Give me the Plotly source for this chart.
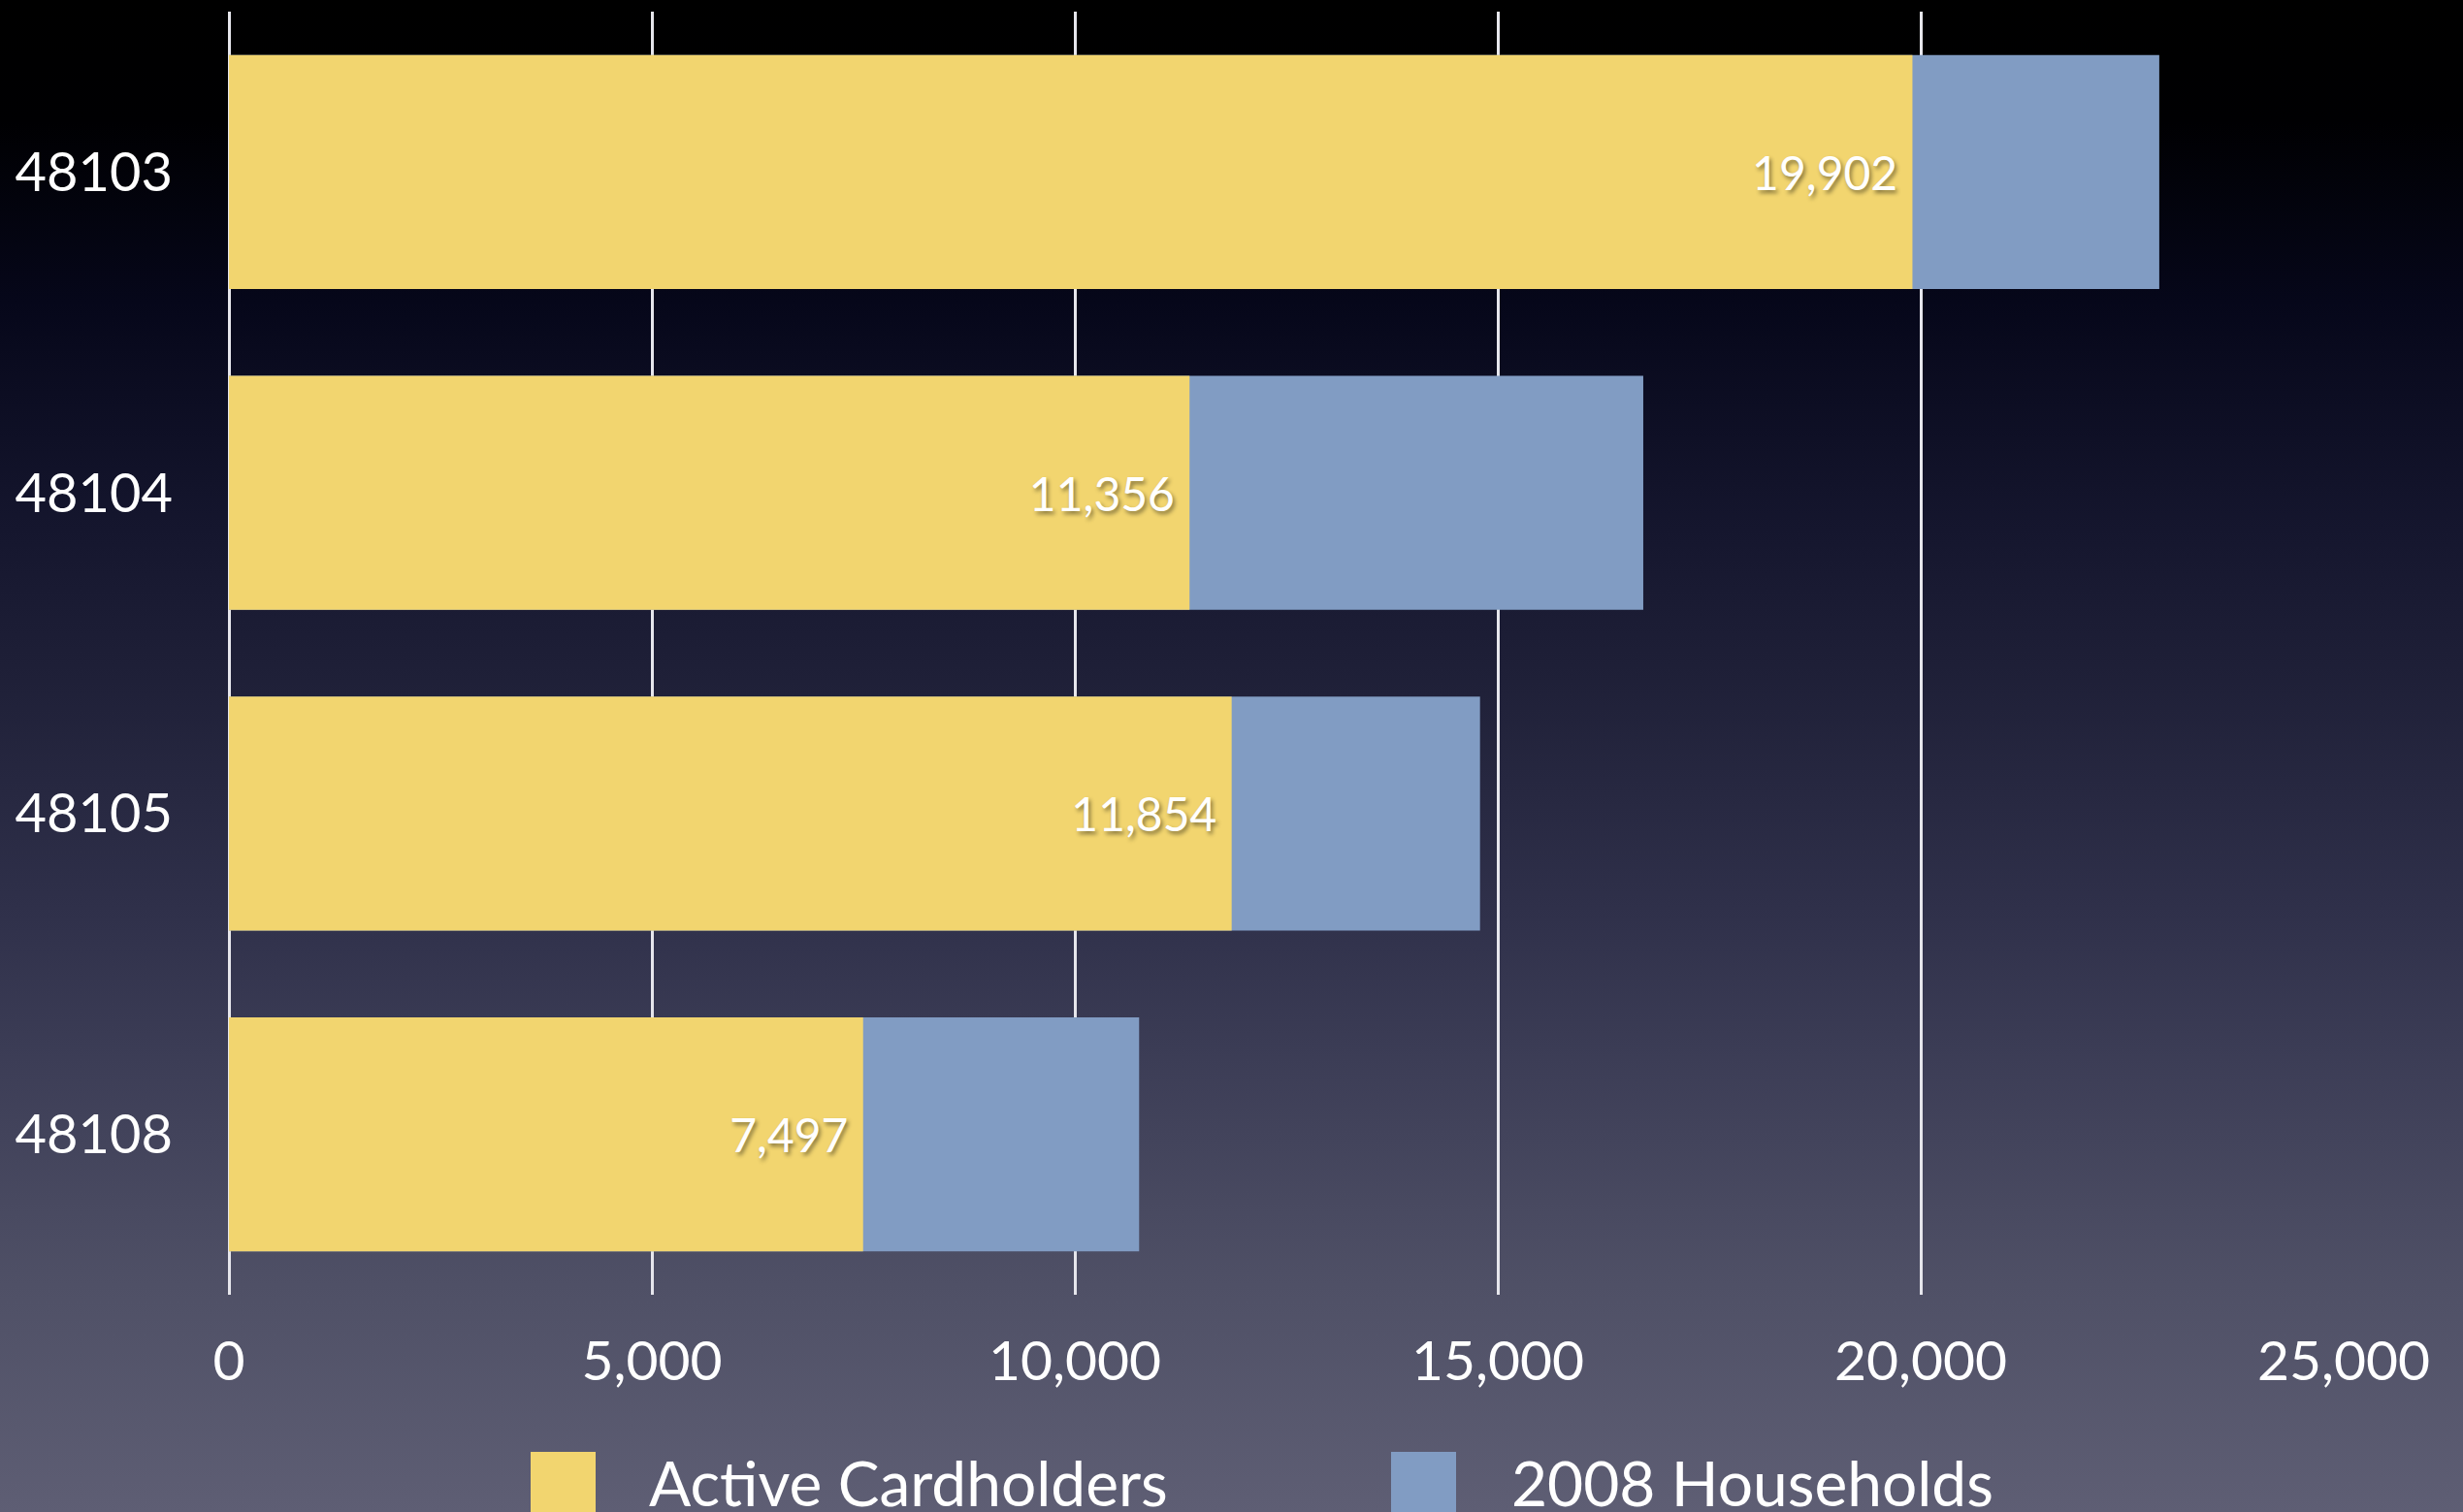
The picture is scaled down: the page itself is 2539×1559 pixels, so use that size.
import base64
import plotly.graph_objects as go

# ---- data ----
zip_codes = ["48103", "48104", "48105", "48108"]
active_cardholders = [19902, 11356, 11854, 7497]
households_2008 = [22820, 16720, 14790, 10760]
x_ticks = [0, 5000, 10000, 15000, 20000, 25000]
x_tick_labels = ["0", "5,000", "10,000", "15,000", "20,000", "25,000"]
legend_names = ["Active Cardholders", "2008 Households"]

YELLOW = "#F2D56F"
BLUE = "#819CC3"
FONT = "Lato, 'Open Sans', sans-serif"

W, H = 2539, 1559
L, R, T, B = 236, 123, 12, 224
PW, PH = W - L - R, H - T - B

# background gradient as an inline svg image
svg = f"""<svg xmlns='http://www.w3.org/2000/svg' width='{W}' height='{H}' viewBox='0 0 {W} {H}' preserveAspectRatio='none'>
<defs><linearGradient id='g' x1='0' y1='0' x2='0' y2='1'>
<stop offset='0' stop-color='#000000'/>
<stop offset='0.08' stop-color='#000002'/>
<stop offset='0.2' stop-color='#06071a'/>
<stop offset='0.35' stop-color='#15162e'/>
<stop offset='0.45' stop-color='#1f2038'/>
<stop offset='0.6' stop-color='#2f304a'/>
<stop offset='0.7' stop-color='#3c3d56'/>
<stop offset='0.85' stop-color='#4f5066'/>
<stop offset='1' stop-color='#5e5e74'/>
</linearGradient></defs>
<rect x='0' y='0' width='{W}' height='{H}' fill='url(#g)'/></svg>"""
bg_src = "data:image/svg+xml;base64," + base64.b64encode(svg.encode()).decode()

fig = go.Figure()
fig.add_trace(go.Bar(
    y=zip_codes, x=households_2008, orientation="h", name=legend_names[1],
    marker=dict(color=BLUE, line=dict(width=0)), hoverinfo="skip",
))
fig.add_trace(go.Bar(
    y=zip_codes, x=active_cardholders, orientation="h", name=legend_names[0],
    marker=dict(color=YELLOW, line=dict(width=0)),
    texttemplate="%{x:,}\u00a0", textposition="inside", insidetextanchor="end",
    textfont=dict(family=FONT, size=48, color="white",
                  shadow="2px 3px 4px rgba(0,0,0,0.45)"),
    constraintext="none", hoverinfo="skip",
))

def px_to_paper_x(px):
    return (px - L) / PW

def px_to_paper_y(py):
    return (H - B - py) / PH

shapes = []
annotations = []
legend_items = [(547, 614, 667, legend_names[0], YELLOW), (1434, 1501, 1556, legend_names[1], BLUE)]
for x0, x1, tx, name, col in legend_items:
    shapes.append(dict(type="rect", xref="paper", yref="paper",
                       x0=px_to_paper_x(x0), x1=px_to_paper_x(x1),
                       y0=px_to_paper_y(1497), y1=px_to_paper_y(1600),
                       fillcolor=col, line=dict(width=0)))
    annotations.append(dict(xref="paper", yref="paper", x=px_to_paper_x(tx),
                            y=px_to_paper_y(1488), xanchor="left", yanchor="top",
                            text=name, showarrow=False,
                            font=dict(family=FONT, size=64, color="white")))

fig.update_layout(
    width=W, height=H,
    margin=dict(l=L, r=R, t=T, b=B, pad=0),
    paper_bgcolor="#000000", plot_bgcolor="rgba(0,0,0,0)",
    barmode="overlay", bargap=0.27, showlegend=False,
    font=dict(family=FONT, color="white"),
    images=[dict(source=bg_src, xref="paper", yref="paper",
                 x=-L / PW, y=1 + T / PH, sizex=W / PW, sizey=H / PH,
                 xanchor="left", yanchor="top", sizing="stretch", layer="below")],
    shapes=shapes, annotations=annotations,
    xaxis=dict(range=[0, 25000], tickvals=x_ticks, ticktext=x_tick_labels,
               showgrid=True, gridcolor="#e6e6ec", gridwidth=2.5,
               zeroline=True, zerolinecolor="#e6e6ec", zerolinewidth=2.5,
               showline=False, ticks="", ticklabelstandoff=30,
               tickfont=dict(family=FONT, size=57, color="white")),
    yaxis=dict(type="category", categoryorder="array", categoryarray=zip_codes,
               autorange="reversed", showgrid=False, zeroline=False, showline=False,
               ticks="", ticklabelstandoff=57,
               tickfont=dict(family=FONT, size=56, color="white")),
)

fig.write_html("out.html")
